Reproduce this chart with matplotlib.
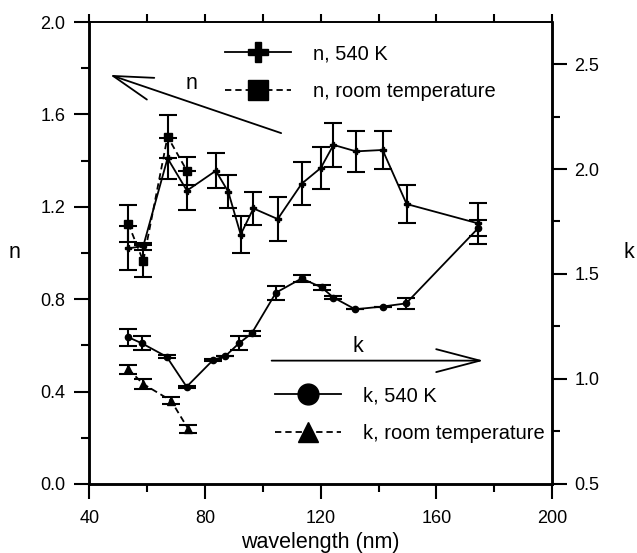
import numpy as np
import matplotlib
matplotlib.use("Agg")
import matplotlib.pyplot as plt
from matplotlib.lines import Line2D
from matplotlib.ticker import MultipleLocator, FormatStrFormatter

plt.rcParams["font.family"] = ["Liberation Sans", "DejaVu Sans"]

# --- data ------------------------------------------------------------------
# n at 540 K (left axis)
wl_n_hot = [53.4, 58.6, 67.0, 73.7, 83.7, 88.0, 92.3, 96.7, 105.1, 113.4,
            120.0, 124.4, 132.2, 141.4, 149.7, 174.5]
n_hot = [1.02, 1.03, 1.41, 1.27, 1.356, 1.265, 1.08, 1.193, 1.147, 1.30,
         1.368, 1.468, 1.44, 1.446, 1.212, 1.128]
n_hot_err = [0.095, 0.015, 0.09, 0.083, 0.076, 0.072, 0.082, 0.071, 0.094,
             0.094, 0.092, 0.094, 0.088, 0.084, 0.083, 0.09]

# n at room temperature (left axis)
wl_n_room = [53.4, 58.6, 67.0, 73.7]
n_room = [1.127, 0.965, 1.504, 1.356]
n_room_err = [0.08, 0.07, 0.093, 0.06]

# k at 540 K (right axis)
wl_k_hot = [53.4, 58.1, 66.7, 73.6, 82.8, 87.0, 91.7, 96.1, 104.5, 113.4,
            120.3, 124.4, 131.9, 141.4, 149.5, 174.5]
k_hot = [1.199, 1.170, 1.106, 0.963, 1.091, 1.109, 1.170, 1.217, 1.411,
         1.479, 1.436, 1.388, 1.332, 1.345, 1.360, 1.719]
k_hot_err = [0.04, 0.033, 0.006, 0.006, 0.005, 0.0, 0.033, 0.011, 0.033,
             0.016, 0.011, 0.005, 0.0, 0.0, 0.025, 0.038]

# k at room temperature (right axis)
wl_k_room = [53.4, 58.6, 68.2, 74.2]
k_room = [1.047, 0.976, 0.897, 0.761]
k_room_err = [0.022, 0.022, 0.018, 0.018]

# --- figure -----------------------------------------------------------------
fig = plt.figure(figsize=(6.37, 5.53), dpi=100)
ax = fig.add_axes([0.1405, 0.1248, 0.7261, 0.8354])
ax2 = ax.twinx()

DASH = (0, (3.5, 2.2))
eb = dict(capsize=6.5, elinewidth=1.5, capthick=1.5, color="black")

ax.errorbar(wl_n_hot, n_hot, yerr=n_hot_err, fmt="P", ms=5, ls="-", lw=1.3,
            **eb, zorder=3)
ax.errorbar(wl_n_room, n_room, yerr=n_room_err, fmt="s", ms=6, ls=DASH,
            lw=1.3, **eb, zorder=3)
ax2.errorbar(wl_k_hot, k_hot, yerr=k_hot_err, fmt="o", ms=4.5, ls="-",
             lw=1.3, **eb, zorder=3)
ax2.errorbar(wl_k_room, k_room, yerr=k_room_err, fmt="^", ms=6, ls=DASH,
             lw=1.3, **eb, zorder=3)

# axes limits / ticks
ax.set_xlim(40, 200)
ax.set_ylim(0, 2.0)
ax2.set_ylim(0.5, 2.7)

ax.xaxis.set_major_locator(MultipleLocator(40))
ax.xaxis.set_minor_locator(MultipleLocator(20))
ax.yaxis.set_major_locator(MultipleLocator(0.4))
ax.yaxis.set_minor_locator(MultipleLocator(0.2))
ax.yaxis.set_major_formatter(FormatStrFormatter("%.1f"))
ax2.yaxis.set_major_locator(MultipleLocator(0.5))
ax2.yaxis.set_minor_locator(MultipleLocator(0.25))
ax2.yaxis.set_major_formatter(FormatStrFormatter("%.1f"))

ax.tick_params(which="major", direction="out", length=11, width=1.5,
               labelsize=13)
ax.tick_params(which="minor", direction="out", length=6, width=1.5)
ax.tick_params(axis="x", which="both", top=True)
ax.tick_params(axis="x", which="major", pad=8)
ax.tick_params(axis="y", which="major", pad=6.5)
ax2.tick_params(which="major", direction="out", length=11, width=1.5,
                labelsize=13, pad=5)
ax2.tick_params(which="minor", direction="out", length=6, width=1.5)

# top ticks are all short
for t in ax.xaxis.get_major_ticks():
    t.tick2line.set_markersize(6)

for a in (ax, ax2):
    for side in ("left", "right", "bottom"):
        a.spines[side].set_linewidth(1.8)
    a.spines["top"].set_linewidth(1.2)

ax.set_xlabel("wavelength (nm)", fontsize=15.5, labelpad=3)
fig.text(14 / 637, 1 - 253 / 553, "n", fontsize=15.5, ha="center", va="center")
fig.text(629 / 637, 1 - 253 / 553, "k", fontsize=15.5, ha="center", va="center")

# direction arrows
ax.annotate("", xy=(47.1, 1.771), xytext=(106.3, 1.519),
            arrowprops=dict(arrowstyle="->,head_length=1.9,head_width=0.55",
                            lw=1.3, color="black", mutation_scale=15,
                            shrinkA=0, shrinkB=0))
ax.text(75.2, 1.735, "n", fontsize=15.5, ha="center", va="center")
ax.annotate("", xy=(176.3, 0.534), xytext=(103.0, 0.534),
            arrowprops=dict(arrowstyle="->,head_length=2.1,head_width=0.55",
                            lw=1.3, color="black", mutation_scale=15,
                            shrinkA=0, shrinkB=0))
ax.text(133.0, 0.594, "k", fontsize=15.5, ha="center", va="center")

# legends
leg_kw = dict(bbox_transform=fig.transFigure, frameon=False, fontsize=14.5,
              handlelength=3.3, handletextpad=1.05, labelspacing=0.95,
              borderpad=0, borderaxespad=0, loc="upper left")
h_n = [Line2D([], [], color="black", lw=1.3, marker="P", ms=15),
       Line2D([], [], color="black", lw=1.3, ls=DASH, marker="s", ms=15)]
leg1 = ax.legend(h_n, ["n, 540 K", "n, room temperature"],
                 bbox_to_anchor=(225 / 637, 1 - 44 / 553), **leg_kw)
ax.add_artist(leg1)
h_k = [Line2D([], [], color="black", lw=1.3, marker="o", ms=15),
       Line2D([], [], color="black", lw=1.3, ls=DASH, marker="^", ms=15)]
ax.legend(h_k, ["k, 540 K", "k, room temperature"],
          bbox_to_anchor=(275 / 637, 1 - 386 / 553), **leg_kw)

fig.savefig("out.png", dpi=100)
